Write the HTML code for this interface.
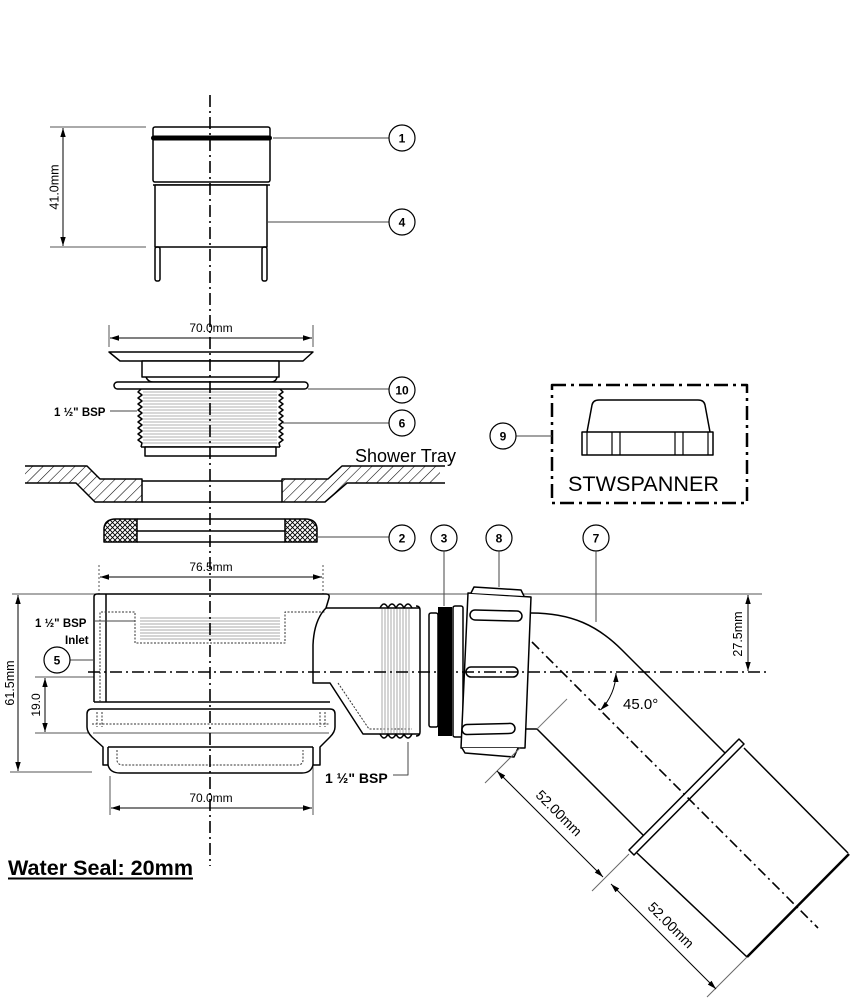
<!DOCTYPE html>
<html><head><meta charset="utf-8"><style>
html,body{margin:0;padding:0;background:#fff;}
svg{display:block;}
text{font-family:"Liberation Sans",Arial,sans-serif;fill:#000;}
</style></head><body>
<svg width="852" height="1000" viewBox="0 0 852 1000" xmlns="http://www.w3.org/2000/svg">
<defs>
<marker id="a" viewBox="0 0 10 6" refX="10" refY="3" markerWidth="9" markerHeight="6" markerUnits="userSpaceOnUse" orient="auto-start-reverse"><path d="M0,0 L10,3 L0,6 Z" fill="#000"/></marker>
<pattern id="hatch" patternUnits="userSpaceOnUse" width="7.5" height="8" patternTransform="rotate(45)"><line x1="0" y1="0" x2="0" y2="8" stroke="#000" stroke-width="1.1"/></pattern>
<pattern id="xh" patternUnits="userSpaceOnUse" width="5" height="5"><path d="M0,0 L5,5 M5,0 L0,5" stroke="#000" stroke-width="0.9"/></pattern>
</defs>

<g fill="none" stroke="#000" stroke-width="1.5" stroke-linejoin="round">

<!-- CAP (1,4) -->
<rect x="153" y="127" width="117" height="55" rx="2" fill="#fff"/>
<rect x="151" y="135.5" width="121" height="5" rx="2.5" fill="#000" stroke="none"/>
<line x1="153" y1="185" x2="270" y2="185"/>
<rect x="155" y="185" width="112" height="62" fill="#fff"/>
<rect x="155" y="247" width="5" height="34" rx="2"/>
<rect x="262" y="247" width="5" height="34" rx="2"/>

<!-- 41mm dim -->
<g stroke="#555" stroke-width="1">
<line x1="50" y1="127" x2="146" y2="127"/>
<line x1="50" y1="247" x2="146" y2="247"/>
</g>
<line x1="63" y1="128" x2="63" y2="246" stroke-width="1" marker-start="url(#a)" marker-end="url(#a)"/>

<!-- leaders 1, 4 -->
<g stroke="#444" stroke-width="1">
<line x1="273" y1="138" x2="389" y2="138"/>
<line x1="268" y1="222" x2="389" y2="222"/>
</g>
<circle cx="402" cy="138" r="13" stroke-width="1.2"/>
<circle cx="402" cy="222" r="13" stroke-width="1.2"/>

<!-- FLANGE -->
<g stroke="#555" stroke-width="1">
<line x1="109" y1="325" x2="109" y2="347"/>
<line x1="313" y1="325" x2="313" y2="347"/>
</g>
<line x1="110" y1="338" x2="312" y2="338" stroke-width="1" marker-start="url(#a)" marker-end="url(#a)"/>
<polygon points="109,352 313,352 303,361 120,361" fill="#fff"/>
<rect x="142" y="361" width="137" height="16" fill="#fff"/>
<path d="M146,377 Q148,382 153,382 L271,382 Q276,382 277,377"/>
<rect x="114" y="382" width="194" height="7" rx="3.5" fill="#fff"/>
<g stroke="#b0b0b0" stroke-width="1">
<line x1="143" y1="392" x2="277" y2="392"/><line x1="143" y1="395" x2="277" y2="395"/><line x1="143" y1="398" x2="277" y2="398"/><line x1="143" y1="401" x2="277" y2="401"/><line x1="143" y1="404" x2="277" y2="404"/><line x1="143" y1="407" x2="277" y2="407"/><line x1="143" y1="410" x2="277" y2="410"/><line x1="143" y1="413" x2="277" y2="413"/><line x1="143" y1="416" x2="277" y2="416"/><line x1="143" y1="419" x2="277" y2="419"/><line x1="143" y1="422" x2="277" y2="422"/><line x1="143" y1="425" x2="277" y2="425"/><line x1="143" y1="428" x2="277" y2="428"/><line x1="143" y1="431" x2="277" y2="431"/><line x1="143" y1="434" x2="277" y2="434"/><line x1="143" y1="437" x2="277" y2="437"/><line x1="143" y1="440" x2="277" y2="440"/><line x1="143" y1="443" x2="277" y2="443"/>
</g>
<path d="M141,389 L138,392 L142,395 L138,398 L142,401 L138,404 L142,407 L138,410 L142,413 L138,416 L142,419 L138,422 L142,425 L138,428 L142,431 L138,434 L142,437 L138,440 L142,443 L141,447"/>
<path d="M280,389 L283,392 L279,395 L283,398 L279,401 L283,404 L279,407 L283,410 L279,413 L283,416 L279,419 L283,422 L279,425 L283,428 L279,431 L283,434 L279,437 L283,440 L279,443 L280,447"/>
<line x1="141" y1="447" x2="280" y2="447"/>
<rect x="145" y="447" width="131" height="9" fill="#fff"/>

<!-- leaders 10, 6, BSP -->
<g stroke="#444" stroke-width="1">
<line x1="308" y1="389" x2="389" y2="389"/>
<line x1="283" y1="423" x2="389" y2="423"/>
<line x1="110" y1="411" x2="137" y2="411"/>
</g>
<circle cx="402" cy="390" r="13" stroke-width="1.2"/>
<circle cx="402" cy="423" r="13" stroke-width="1.2"/>

<!-- SHOWER TRAY -->
<polygon points="25,466 87,466 100,479 142,479 142,502 95,502 76,483 25,483" fill="url(#hatch)" stroke="none"/>
<polygon points="282,479 328,479 342,466 440,466 440,483 347,483 325,502 282,502" fill="url(#hatch)" stroke="none"/>
<path d="M25,466 L87,466 L100,479 L142,479 L142,502 L95,502 L76,483 L25,483"/>
<path d="M445,466 L342,466 L328,479 L282,479 L282,502 L325,502 L347,483 L445,483"/>
<line x1="142" y1="481" x2="282" y2="481"/>
<line x1="142" y1="502" x2="282" y2="502"/>

<!-- GASKET 2 -->
<path d="M104,542 L104,528 Q105,519 116,519 L137,519 L137,542 Z" fill="url(#xh)"/>
<path d="M317,542 L317,528 Q316,519 305,519 L285,519 L285,542 Z" fill="url(#xh)"/>
<line x1="137" y1="519" x2="285" y2="519"/>
<line x1="137" y1="542" x2="285" y2="542"/>
<line x1="137" y1="531" x2="285" y2="531"/>
<line x1="317" y1="537" x2="389" y2="537" stroke="#444" stroke-width="1"/>
<circle cx="402" cy="538" r="13" stroke-width="1.2"/>
<circle cx="444" cy="538" r="13" stroke-width="1.2"/>
<circle cx="499" cy="538" r="13" stroke-width="1.2"/>
<circle cx="596" cy="538" r="13" stroke-width="1.2"/>
<g stroke="#444" stroke-width="1">
<line x1="444" y1="551" x2="444" y2="606"/>
<line x1="499" y1="551" x2="499" y2="587"/>
<line x1="596" y1="551" x2="596" y2="622"/>
</g>

<!-- TRAP dims -->
<g stroke="#555" stroke-width="1">
<line x1="99" y1="565" x2="99" y2="594" stroke-dasharray="2,2"/>
<line x1="323" y1="565" x2="323" y2="594" stroke-dasharray="2,2"/>
<line x1="12" y1="594" x2="762" y2="594"/>
<line x1="10" y1="772" x2="92" y2="772"/>
<line x1="35" y1="677" x2="118" y2="677"/>
<line x1="35" y1="733" x2="92" y2="733"/>
<line x1="110" y1="776" x2="110" y2="815"/>
<line x1="313" y1="760" x2="313" y2="815"/>
</g>
<line x1="100" y1="577" x2="322" y2="577" stroke-width="1" marker-start="url(#a)" marker-end="url(#a)"/>
<line x1="18" y1="595" x2="18" y2="771" stroke-width="1" marker-start="url(#a)" marker-end="url(#a)"/>
<line x1="45" y1="678" x2="45" y2="732" stroke-width="1" marker-start="url(#a)" marker-end="url(#a)"/>
<line x1="111" y1="808" x2="312" y2="808" stroke-width="1" marker-start="url(#a)" marker-end="url(#a)"/>

<!-- TRAP BODY -->
<path d="M94,702 L94,597 Q94,594 97,594 L326,594 Q330,594 329,598 L326,608" fill="#fff"/>
<line x1="106" y1="594" x2="106" y2="702"/>
<line x1="94" y1="702" x2="330" y2="702"/>
<g stroke="#333" stroke-width="1" stroke-dasharray="2,1.5">
<path d="M100,702 L100,612 L135,612 L135,643 L285,643 L285,612 L326,612"/>
<path d="M338,683 L369,729 L412,729"/>
</g>
<g stroke="#aaa" stroke-width="1">
<line x1="140" y1="618" x2="280" y2="618"/><line x1="140" y1="621" x2="280" y2="621"/><line x1="140" y1="624" x2="280" y2="624"/><line x1="140" y1="627" x2="280" y2="627"/><line x1="140" y1="630" x2="280" y2="630"/><line x1="140" y1="633" x2="280" y2="633"/><line x1="140" y1="636" x2="280" y2="636"/><line x1="140" y1="639" x2="280" y2="639"/>
</g>
<path d="M87,714 Q87,709 92,709 L330,709 Q335,709 335,714 L335,727 Q335,732 330,737 L320,747 L320,765 L313,765 Q311,773 302,773 L120,773 Q110,773 108,765 L103,765 L103,747 L92,737 Q87,732 87,727 Z" fill="#fff"/>
<g stroke="#333" stroke-width="1" stroke-dasharray="2,1.5">
<line x1="92" y1="724" x2="330" y2="724"/>
<path d="M97,712 L97,727 M325,712 L325,727 M102,712 L102,727 M320,712 L320,727"/>
</g>
<line x1="93" y1="733" x2="329" y2="733" stroke="#555" stroke-width="1"/>
<line x1="108" y1="747" x2="313" y2="747"/>
<line x1="108" y1="747" x2="108" y2="765"/>
<line x1="313" y1="747" x2="313" y2="765"/>
<g stroke="#333" stroke-width="1" stroke-dasharray="2,1.5">
<path d="M117,750 L117,760 Q117,765 124,765 L297,765 Q303,765 303,760 L303,750"/>
</g>

<!-- outlet -->
<path d="M326,608 L420,608"/>
<path d="M326,608 Q314,620 313,645 L313,683 L330,683 L363,734 L420,734" fill="none"/>
<g stroke="#aaa" stroke-width="1">
<line x1="382" y1="609" x2="382" y2="733"/><line x1="385" y1="609" x2="385" y2="733"/><line x1="388" y1="609" x2="388" y2="733"/><line x1="391" y1="609" x2="391" y2="733"/><line x1="394" y1="609" x2="394" y2="733"/><line x1="397" y1="609" x2="397" y2="733"/><line x1="400" y1="609" x2="400" y2="733"/><line x1="403" y1="609" x2="403" y2="733"/><line x1="406" y1="609" x2="406" y2="733"/><line x1="409" y1="609" x2="409" y2="733"/>
</g>
<path d="M380,608 Q384,600 388,608 Q392,600 396,608 Q400,600 404,608 Q408,600 412,608"/>
<path d="M380,734 Q384,742 388,734 Q392,742 396,734 Q400,742 404,734 Q408,742 412,734"/>
<path d="M416,606 Q420,606 420,610 L420,732 Q420,736 416,736"/>

<!-- bottom BSP leader -->
<path d="M408,742 L408,775 L393,775" stroke="#444" stroke-width="1"/>
<!-- inlet leaders -->
<g stroke="#444" stroke-width="1">
<line x1="95" y1="621" x2="135" y2="621"/>
<line x1="70" y1="660" x2="94" y2="660"/>
</g>
<circle cx="57" cy="660" r="13" stroke-width="1.2"/>

<!-- WASHER 3 -->
<rect x="429" y="613" width="9" height="114" rx="2"/>
<rect x="438" y="607" width="14" height="129" fill="#000" stroke="none"/>
<rect x="453" y="606" width="10" height="131" rx="2"/>

<!-- ELBOW 7 -->
<path d="M531,613 C572,613 598,626 622,650 L727.5,755.5"/>
<path d="M525,729 L537,729 L645.5,837.5"/>
<line x1="537" y1="729" x2="567" y2="699" stroke="#777" stroke-width="1"/>
<polygon points="739,739 744,744 634,855 629,850" fill="#fff"/>
<line x1="744" y1="748" x2="848" y2="853"/>
<line x1="637" y1="853" x2="747" y2="957"/>
<line x1="747" y1="957" x2="849" y2="854" stroke-width="2.5"/>
<line x1="532" y1="642" x2="818" y2="928" stroke-width="1.6" stroke-dasharray="10,4,2,4"/>

<!-- NUT 8 -->
<polygon points="468,593 531,597 525,748 461,748" fill="#fff"/>
<path d="M471,593 L474,587 L521,590 L524,596" fill="#fff"/>
<path d="M462,748 L465,753 L514,757 L518,748" fill="#fff"/>
<rect x="470" y="610.5" width="52" height="10" rx="5" transform="rotate(1.5 496 615)"/>
<rect x="466" y="667" width="52" height="10" rx="5"/>
<rect x="462" y="724" width="53" height="10" rx="5" transform="rotate(-1.5 488 729)"/>

<!-- horizontal centerline -->
<line x1="88" y1="672" x2="768" y2="672" stroke-width="1.6" stroke-dasharray="12,4,2,4"/>
<!-- vertical centerline on top -->
<line x1="210" y1="95" x2="210" y2="866" stroke-width="1.6" stroke-dasharray="12,4,2,4"/>

<!-- 27.5 dim -->
<line x1="748" y1="595" x2="748" y2="671" stroke-width="1" marker-start="url(#a)" marker-end="url(#a)"/>
<!-- 45 deg arc -->
<path d="M616,673 A54,54 0 0 1 600.5,710" stroke-width="1" marker-start="url(#a)" marker-end="url(#a)"/>

<!-- 52mm dims -->
<g stroke="#666" stroke-width="1">
<line x1="520" y1="748" x2="485" y2="783"/>
<line x1="629" y1="854" x2="592" y2="891"/>
<line x1="747" y1="957" x2="707" y2="997"/>
</g>
<line x1="497" y1="771" x2="603" y2="877" stroke-width="1" marker-start="url(#a)" marker-end="url(#a)"/>
<line x1="611" y1="884" x2="716" y2="989" stroke-width="1" marker-start="url(#a)" marker-end="url(#a)"/>

<!-- SPANNER box -->
<rect x="552" y="385" width="195" height="118" stroke-width="2.5" stroke-dasharray="14,5,3,5"/>
<path d="M587,432 L592,405 Q593,400 599,400 L698,400 Q704,400 705,405 L710,432"/>
<rect x="582" y="432" width="131" height="23"/>
<g stroke-width="1.2">
<line x1="587" y1="432" x2="587" y2="455"/>
<line x1="612" y1="432" x2="612" y2="455"/>
<line x1="620" y1="432" x2="620" y2="455"/>
<line x1="675" y1="432" x2="675" y2="455"/>
<line x1="683" y1="432" x2="683" y2="455"/>
<line x1="708" y1="432" x2="708" y2="455"/>
</g>
<line x1="516" y1="436" x2="552" y2="436" stroke="#444" stroke-width="1"/>
<circle cx="503" cy="436" r="13" stroke-width="1.2"/>
</g>

<!-- TEXT -->
<g font-size="12.5">
<text transform="translate(58.5,187) rotate(-90)" text-anchor="middle">41.0mm</text>
<text x="211" y="332" text-anchor="middle" font-size="12">70.0mm</text>
<text x="211" y="571" text-anchor="middle" font-size="12">76.5mm</text>
<text x="211" y="802" text-anchor="middle" font-size="12">70.0mm</text>
<text transform="translate(14,683) rotate(-90)" text-anchor="middle">61.5mm</text>
<text transform="translate(40,705) rotate(-90)" text-anchor="middle" font-size="12">19.0</text>
<text transform="translate(742,634) rotate(-90)" text-anchor="middle">27.5mm</text>
</g>
<text x="623" y="709" font-size="15">45.0°</text>
<text transform="translate(559,813) rotate(45)" text-anchor="middle" y="5" font-size="14">52.00mm</text>
<text transform="translate(671,925) rotate(45)" text-anchor="middle" y="5" font-size="14">52.00mm</text>

<g font-weight="bold" font-size="11.5">
<text x="54" y="416">1 ½" BSP</text>
<text x="35" y="627">1 ½" BSP</text>
<text x="65" y="644">Inlet</text>
</g>
<text x="325" y="783" font-weight="bold" font-size="14">1 ½" BSP</text>

<g font-weight="bold" font-size="12" text-anchor="middle">
<text x="402" y="142.5">1</text>
<text x="402" y="226.5">4</text>
<text x="402" y="394.5">10</text>
<text x="402" y="427.5">6</text>
<text x="402" y="542.5">2</text>
<text x="444" y="542.5">3</text>
<text x="499" y="542.5">8</text>
<text x="596" y="542.5">7</text>
<text x="57" y="664.5">5</text>
<text x="503" y="440.5">9</text>
</g>

<text x="355" y="462" font-size="18">Shower Tray</text>
<text x="568" y="491" font-size="21" textLength="151" lengthAdjust="spacingAndGlyphs">STWSPANNER</text>

<text x="8" y="875" font-size="21" font-weight="bold" textLength="185" lengthAdjust="spacingAndGlyphs">Water Seal: 20mm</text>
<line x1="8" y1="878.5" x2="193" y2="878.5" stroke="#000" stroke-width="2"/>
</svg>
</body></html>
